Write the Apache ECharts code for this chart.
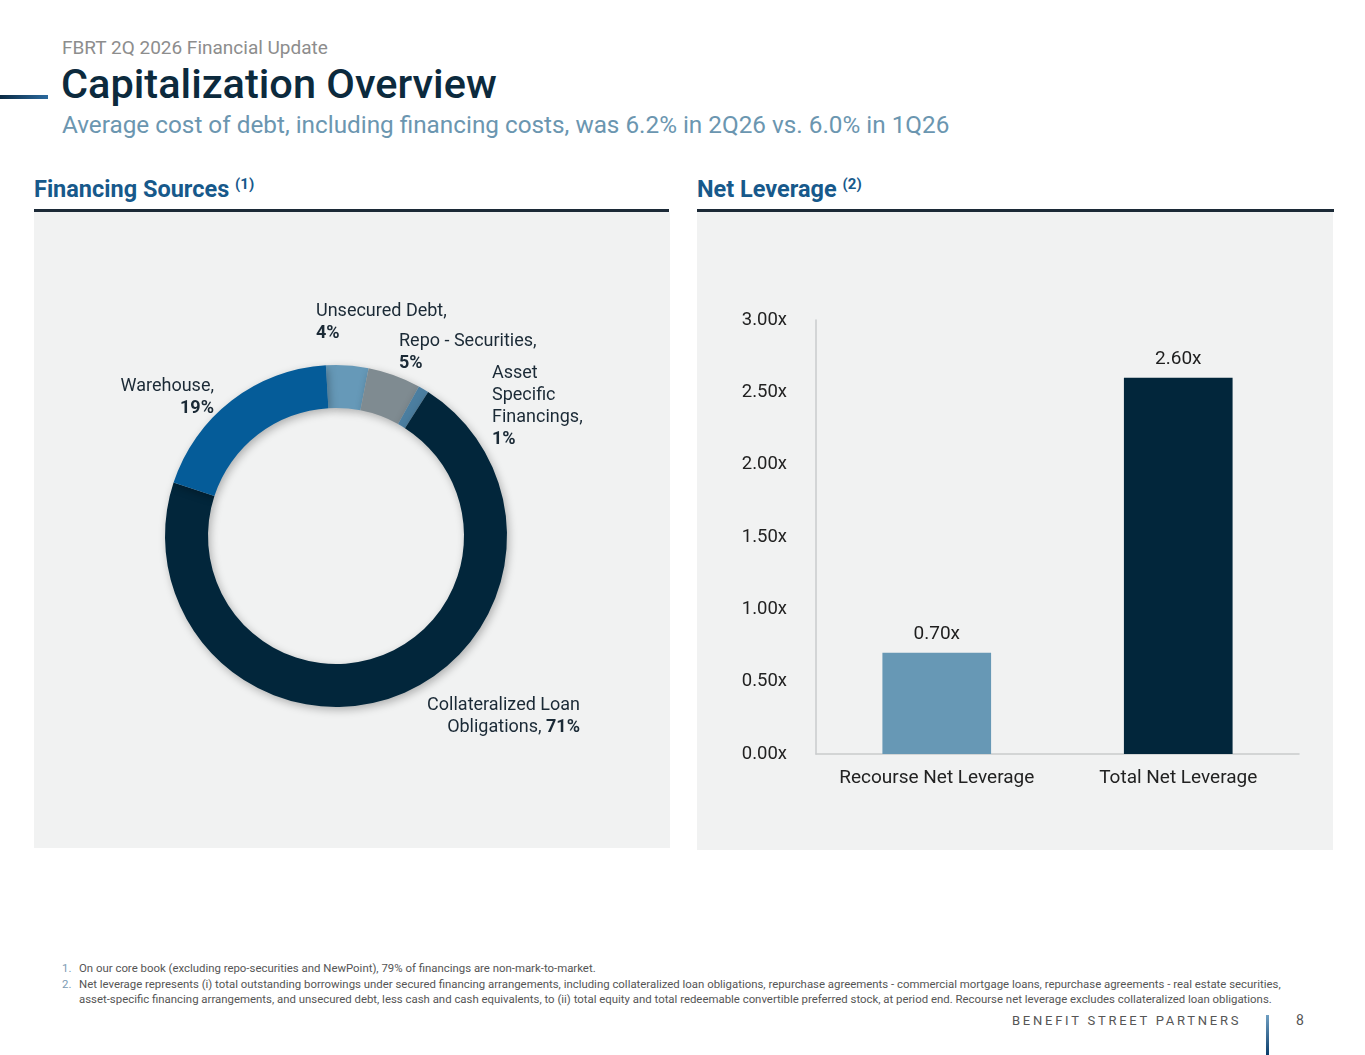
<!doctype html>
<html lang="en">
<head>
<meta charset="UTF-8">
<title>Capitalization Overview</title>
<script src="https://cdn.jsdelivr.net/npm/echarts@6/dist/echarts.min.js"></script>
<style>
    html, body { margin: 0; padding: 0; background: #fff; }
    body { width: 1365px; height: 1055px; position: relative; overflow: hidden; font-family: Roboto, "Noto Sans", sans-serif; }
    .abs { position: absolute; white-space: nowrap; }
    #kicker { left: 62px; top: 36px; font-size: 19px; color: #8d8d8d; }
    #title { left: 61px; top: 59px; font-size: 41.5px; font-weight: 500; color: #0c2a3d; }
    #accent { left: 0; top: 95px; width: 48px; height: 4px; background: linear-gradient(to right, #0b2a44, #2b6a9e); }
    #subtitle { left: 62px; top: 110px; font-size: 24.3px; color: #6b96b0; }
    .sec { top: 175px; font-size: 23.5px; font-weight: 700; color: #17598b; }
    .sec sup { font-size: 15px; font-weight: 700; vertical-align: 8px; }
    .rule { top: 209px; height: 3px; background: #1c2a37; }
    .panel { top: 212px; background: #f1f2f2; }
    .note { font-size: 11.4px; color: #555; }
    .note b { font-weight: 400; color: #7b9bb3; display: inline-block; width: 17px; }
    #brand { left: 1012px; top: 1013px; font-size: 13px; letter-spacing: 2.75px; color: #555; }
    #vbar { left: 1266px; top: 1015px; width: 3px; height: 40px; background: linear-gradient(to bottom, #6f9fc2, #0b3d6b); }
    #page { left: 1296px; top: 1012px; font-size: 14px; color: #555; }
</style>
</head>
<body>
<div class="abs" id="kicker">FBRT 2Q 2026 Financial Update</div>
<div class="abs" id="accent"></div>
<div class="abs" id="title">Capitalization Overview</div>
<div class="abs" id="subtitle">Average cost of debt, including financing costs, was 6.2% in 2Q26 vs. 6.0% in 1Q26</div>

<div class="abs sec" style="left:34px">Financing Sources <sup>(1)</sup></div>
<div class="abs sec" style="left:697px">Net Leverage <sup>(2)</sup></div>
<div class="abs rule" style="left:34px;width:635px"></div>
<div class="abs rule" style="left:697px;width:637px"></div>

<div class="abs panel" id="donut" style="left:34px;width:636px;height:636px"></div>
<div class="abs panel" id="bars" style="left:697px;width:636px;height:638px"></div>

<div class="abs note" style="left:62px;top:961px"><b>1.</b>On our core book (excluding repo-securities and NewPoint), 79% of financings are non-mark-to-market.</div>
<div class="abs note" style="left:62px;top:977px"><b>2.</b>Net leverage represents (i) total outstanding borrowings under secured financing arrangements, including collateralized loan obligations, repurchase agreements - commercial mortgage loans, repurchase agreements - real estate securities,</div>
<div class="abs note" style="left:79px;top:992px">asset-specific financing arrangements, and unsecured debt, less cash and cash equivalents, to (ii) total equity and total redeemable convertible preferred stock, at period end. Recourse net leverage excludes collateralized loan obligations.</div>

<div class="abs" id="brand">BENEFIT STREET PARTNERS</div>
<div class="abs" id="vbar"></div>
<div class="abs" id="page">8</div>

<script type="text/javascript">
    // financing sources, clockwise from the top
    var sourceNames = ['Unsecured Debt', 'Repo - Securities', 'Asset\nSpecific\nFinancings', 'Collateralized Loan\nObligations', 'Warehouse'];
    var sourceShares = [4, 5, 1, 71, 19];
    var sourceColors = ['#6699b8', '#7f8b91', '#4b7ea0', '#02263b', '#055c99'];

    // net leverage
    var leverageNames = ['Recourse Net Leverage', 'Total Net Leverage'];
    var leverageValues = [0.70, 2.60];
    var leverageColors = ['#6798b5', '#02263b'];

    // where each slice label sits in the panel: [x, y, align]
    var labelSpots = [
        [282, 88, 'left'],
        [365, 118, 'left'],
        [458, 150, 'left'],
        [546, 482, 'right'],
        [180, 163, 'right']
    ];

    var donut = echarts.init(document.getElementById('donut'));
    donut.setOption({
        series: [{
            type: 'pie',
            center: [302, 324],
            radius: [128, 171],
            startAngle: 93.4,
            silent: true,
            itemStyle: {
                shadowBlur: 8,
                shadowOffsetX: 2,
                shadowOffsetY: 3,
                shadowColor: 'rgba(0,0,0,0.28)'
            },
            label: {
                show: true,
                position: 'outside',
                overflow: 'none',
                formatter: function (p) {
                    var lines = p.name.split('\n');
                    var txt = lines.map(function (l, i) {
                        return '{n|' + l + (i === lines.length - 1 ? ',' : '') + '}';
                    });
                    if (p.dataIndex === 3) {
                        txt[txt.length - 1] += '{n| }{p|' + p.value + '%}';
                        return txt.join('\n');
                    }
                    return txt.join('\n') + '\n{p|' + p.value + '%}';
                },
                rich: {
                    n: { fontFamily: 'Roboto', fontSize: 18, color: '#1b2a36', lineHeight: 22 },
                    p: { fontFamily: 'Roboto', fontSize: 18, fontWeight: 'bold', color: '#1b2a36', lineHeight: 22 }
                }
            },
            labelLine: { show: false },
            labelLayout: function (params) {
                var s = labelSpots[params.dataIndex];
                return { x: s[0], y: s[1], align: s[2], verticalAlign: 'top', width: 300 };
            },
            data: sourceNames.map(function (n, i) {
                return {
                    name: n,
                    value: sourceShares[i],
                    itemStyle: { color: sourceColors[i] },
                    label: { align: labelSpots[i][2] }
                };
            })
        }]
    });

    var bars = echarts.init(document.getElementById('bars'));
    bars.setOption({
        grid: { left: 119, right: 34, top: 108, bottom: 96 },
        xAxis: {
            type: 'category',
            data: leverageNames,
            axisLine: { lineStyle: { color: '#c9cbcc', width: 1.5 } },
            axisTick: { show: false },
            axisLabel: { fontFamily: 'Roboto', fontSize: 19, color: '#222', margin: 15, interval: 0 }
        },
        yAxis: {
            type: 'value',
            min: 0,
            max: 3,
            interval: 0.5,
            axisLine: { show: true, lineStyle: { color: '#c9cbcc', width: 1.5 } },
            axisTick: { show: false },
            splitLine: { show: false },
            axisLabel: {
                fontFamily: 'Roboto', fontSize: 18.5, color: '#222', margin: 29,
                formatter: function (v) { return v.toFixed(2) + 'x'; }
            }
        },
        series: [{
            type: 'bar',
            barWidth: '45%',
            silent: true,
            data: leverageValues.map(function (v, i) {
                return { value: v, itemStyle: { color: leverageColors[i] } };
            }),
            label: {
                show: true,
                position: 'top',
                distance: 9,
                fontFamily: 'Roboto',
                fontSize: 19,
                color: '#1e1e1e',
                formatter: function (p) { return p.value.toFixed(2) + 'x'; }
            }
        }]
    });
</script>
</body>
</html>
